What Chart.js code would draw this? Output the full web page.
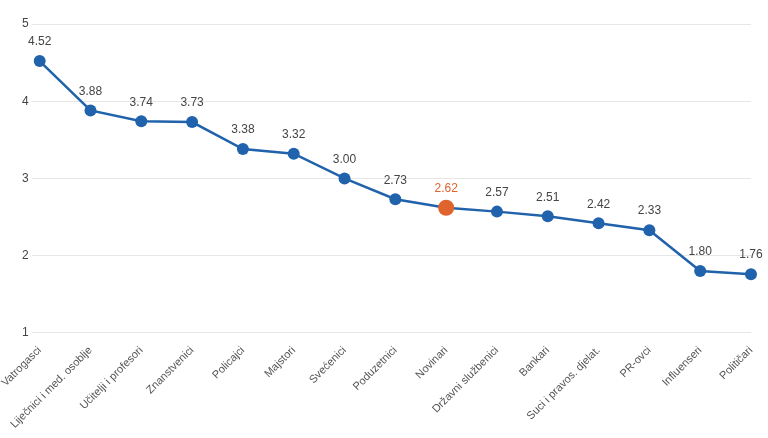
<!DOCTYPE html>
<html><head><meta charset="utf-8">
<script src="https://cdn.jsdelivr.net/npm/chart.js@4/dist/chart.umd.min.js"></script>
<style>html,body{margin:0;padding:0;background:#fff}#w{width:768px;height:438px}</style>
</head><body><div id="w"><canvas id="c"></canvas></div>
<script>
const categories = ["Vatrogasci","Liječnici i med. osoblje","Učitelji i profesori","Znanstvenici","Policajci","Majstori","Svećenici","Poduzetnici","Novinari","Državni službenici","Bankari","Suci i pravos. djelat.","PR-ovci","Influenseri","Političari"];
const values = [4.52,3.88,3.74,3.73,3.38,3.32,3.00,2.73,2.62,2.57,2.51,2.42,2.33,1.80,1.76];
const highlightIndex = 8;
const yTicks = [1,2,3,4,5];

const BLUE = '#2062ab', ORANGE = '#e0622d';
const labelPlugin = {
  id: 'vlabels',
  afterDatasetsDraw(chart) {
    const ctx = chart.ctx;
    const meta = chart.getDatasetMeta(0);
    ctx.save();
    ctx.font = '12px "Liberation Sans", Arial, sans-serif';
    ctx.textAlign = 'center';
    ctx.textBaseline = 'middle';
    meta.data.forEach((pt, i) => {
      ctx.fillStyle = i === highlightIndex ? ORANGE : '#444';
      ctx.fillText(values[i].toFixed(2), pt.x, pt.y - 19);
    });
    ctx.restore();
  }
};
new Chart(document.getElementById('c'), {
  type: 'line',
  data: { labels: categories, datasets: [{
    data: values,
    borderColor: BLUE,
    borderWidth: 2.5,
    tension: 0,
    pointRadius: values.map((v,i)=> i===highlightIndex ? 8 : 6),
    pointBackgroundColor: values.map((v,i)=> i===highlightIndex ? ORANGE : BLUE),
    pointBorderColor: values.map((v,i)=> i===highlightIndex ? ORANGE : BLUE),
    pointBorderWidth: 0
  }]},
  options: {
    responsive: true, maintainAspectRatio: false, animation: false,
    layout: { padding: { top: 24, right: 17, left: 19, bottom: 4 } },
    plugins: { legend: { display: false }, tooltip: { enabled: false } },
    scales: {
      x: { offset: false, grid: { display: false }, border: { display: false },
        ticks: { minRotation: 45, maxRotation: 45, autoSkip: false, color: '#555',
          font: { family: '"Liberation Sans", Arial, sans-serif', size: 11 } } },
      y: { min: 1, max: 5, afterBuildTicks: s => { s.ticks = yTicks.map(v=>({value:v})); },
        grid: { color: '#e6e6e6', tickLength: 8 }, border: { display: false },
        ticks: { color: '#444', padding: 3, font: { family: '"Liberation Sans", Arial, sans-serif', size: 12 } } }
    }
  },
  plugins: [labelPlugin]
});
</script></body></html>
